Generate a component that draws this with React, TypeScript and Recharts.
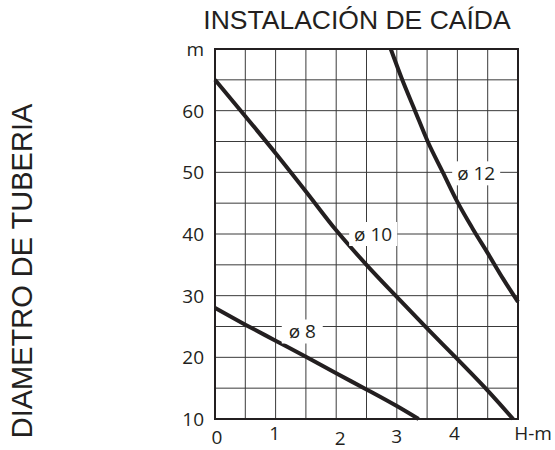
import React from "react";
import { LineChart, Line, XAxis, YAxis, CartesianGrid, ReferenceArea, ReferenceDot } from "recharts";

const xTicks = [0, 0.5, 1, 1.5, 2, 2.5, 3, 3.5, 4, 4.5, 5];
const yTicks = [10, 15, 20, 25, 30, 35, 40, 45, 50, 55, 60, 65, 70];

const d8x = [0, 0.5, 1, 1.5, 2, 2.5, 3, 3.36];
const d8y = [28, 25.3, 22.7, 20.1, 17.4, 14.8, 12.1, 10];

const d10x = [0, 0.5, 1, 1.5, 2, 2.5, 3, 3.5, 4, 4.5, 4.92];
const d10y = [65, 59.1, 53.1, 46.9, 40.6, 35, 29.8, 24.7, 19.7, 14.6, 10];

const d12x = [2.9, 3.09, 3.3, 3.51, 3.76, 4, 4.25, 4.5, 4.75, 5];
const d12y = [70, 65, 60, 55, 50, 45.2, 40.9, 36.9, 32.8, 29];

const seriesLabels = ["ø 8", "ø 10", "ø 12"];
const labelX = [1.44, 2.61, 4.31];
const labelY = [25, 40, 50];

const title = "INSTALACIÓN DE CAÍDA";
const sideTitle = "DIAMETRO DE TUBERIA";

const toData = (xs: number[], ys: number[]) => xs.map((x, i) => ({ x, y: ys[i] }));
const s8 = toData(d8x, d8y);
const s10 = toData(d10x, d10y);
const s12 = toData(d12x, d12y);

const INK = "#231f20";
const TICK_FONT = "'Open Sans', sans-serif";
const TICK_SIZE = 19;

const xFmt = (v: number) => (v === 5 ? "H-m" : Number.isInteger(v) ? String(v) : "");
const yFmt = (v: number) => (v === 70 ? "m" : v % 10 === 0 ? String(v) : "");

const xOffsets: Record<string, [number, number]> = {
  "0": [2, 2],
  "1": [-1, -2],
  "2": [4, 3],
  "3": [0, 1],
  "4": [-3, -2],
  "H-m": [15, -2],
};

const XTick = (props: any) => {
  const { x, y, payload } = props;
  const label = xFmt(payload.value);
  if (!label) return null;
  const [dx, dy] = xOffsets[label] || [0, 0];
  return (
    <text x={x + dx} y={y + dy} textAnchor="middle" fontFamily={TICK_FONT} fontSize={TICK_SIZE} fill={INK} dy="0.71em">
      {label}
    </text>
  );
};

const YTick = (props: any) => {
  const { x, y, payload } = props;
  const label = yFmt(payload.value);
  if (!label) return null;
  return (
    <text x={x} y={y} textAnchor="end" fontFamily={TICK_FONT} fontSize={TICK_SIZE} fill={INK} dy="0.36em">
      {label}
    </text>
  );
};

const makeLabelShape = (text: string, w: number, dy: number) => (props: any) => {
  const { cx, cy } = props;
  return (
    <g>
      <rect x={cx - w / 2} y={cy - 12 + dy} width={w} height={24} fill="#ffffff" />
      <text x={cx} y={cy + dy} textAnchor="middle" dy="0.36em" fontFamily={TICK_FONT} fontSize={TICK_SIZE} fill={INK}>
        {text}
      </text>
    </g>
  );
};

const labelWidths = [41, 48, 48];
const labelDy = [5, 0, 1];

export default function App() {
  return (
    <div style={{ position: "absolute", left: 0, top: 0, width: 555, height: 450, background: "#fff" }}>
      <LineChart width={555} height={450} margin={{ top: 49, right: 37, bottom: 0, left: 155 }}>
        <CartesianGrid stroke="#3a3a3a" strokeWidth={1} />
        <XAxis
          type="number"
          dataKey="x"
          domain={[0, 5]}
          ticks={xTicks}
          interval={0}
          height={31}
          axisLine={false}
          tickLine={false}
          tickSize={0}
          tickMargin={10}
          tick={<XTick />}
        />
        <YAxis
          type="number"
          dataKey="y"
          domain={[10, 70]}
          ticks={yTicks}
          interval={0}
          width={60}
          axisLine={false}
          tickLine={false}
          tickSize={0}
          tickMargin={11}
          tick={<YTick />}
        />
        <ReferenceArea x1={0} x2={5} y1={10} y2={70} fill="none" stroke={INK} strokeWidth={2} />
        {seriesLabels.map((t, i) => (
          <ReferenceDot
            key={t}
            x={labelX[i]}
            y={labelY[i]}
            r={0}
            shape={makeLabelShape(t, labelWidths[i], labelDy[i])}
          />
        ))}
        <Line data={s8} dataKey="y" type="monotone" stroke={INK} strokeWidth={4} dot={false} isAnimationActive={false} />
        <Line data={s10} dataKey="y" type="monotone" stroke={INK} strokeWidth={4} dot={false} isAnimationActive={false} />
        <Line data={s12} dataKey="y" type="monotone" stroke={INK} strokeWidth={4} dot={false} isAnimationActive={false} />
        <text x={357} y={29} textAnchor="middle" fontFamily="'Liberation Sans', Arial, sans-serif" fontSize={26.5} fill={INK}>
          {title}
        </text>
        <text
          transform="translate(32, 271) rotate(-90)"
          textAnchor="middle"
          fontFamily="'Liberation Sans', Arial, sans-serif"
          fontSize={29}
          fill={INK}
        >
          {sideTitle}
        </text>
      </LineChart>
    </div>
  );
}
